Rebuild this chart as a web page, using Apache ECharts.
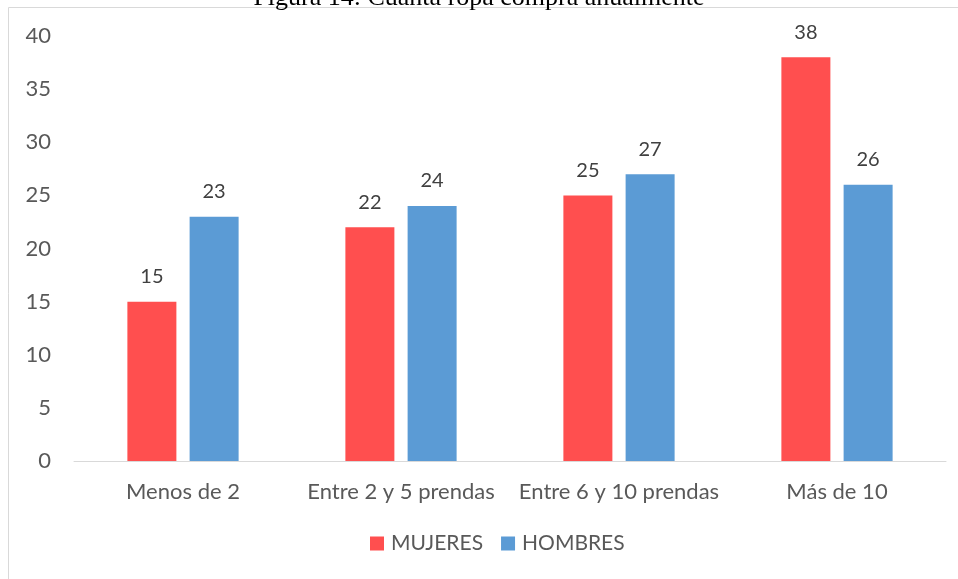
<!DOCTYPE html>
<html><head><meta charset="utf-8">
<script src="https://cdn.jsdelivr.net/npm/echarts@6/dist/echarts.min.js"></script>
<style>html,body{margin:0;padding:0;background:#fff}#c{width:958px;height:579px}</style>
</head><body><div id="c"></div>
<script>
const categories = ['Menos de 2', 'Entre 2 y 5 prendas', 'Entre 6 y 10 prendas', 'Más de 10'];
const mujeres = [15, 22, 25, 38];
const hombres = [23, 24, 27, 26];
const yTicks = [0, 5, 10, 15, 20, 25, 30, 35, 40];
const titleText = 'Figura 14: Cuánta ropa compra anualmente';

const chart = echarts.init(document.getElementById('c'), null, {renderer: 'canvas'});
const font = 'Lato, "Open Sans", sans-serif';
chart.setOption({
  animation: false,
  title: {
    text: titleText, left: 'center', top: -20,
    textStyle: {fontFamily: '"Liberation Serif", "Times New Roman", serif', fontWeight: 'normal', fontSize: 26, color: '#000'}
  },
  graphic: [{
    type: 'rect', shape: {x: 8.5, y: 7.5, width: 1000, height: 700},
    style: {fill: 'none', stroke: '#d9d9d9', lineWidth: 1}, z: -1
  }],
  legend: {
    bottom: 20, left: 365, itemWidth: 14, itemHeight: 14, itemGap: 18,
    icon: 'rect',
    textStyle: {fontFamily: font, fontSize: 21, color: '#595959', padding: [0, 0, 0, 2]},
    data: ['MUJERES', 'HOMBRES']
  },
  grid: {left: 74, right: 12, top: 36, bottom: 118, containLabel: false},
  xAxis: {
    type: 'category', data: categories,
    axisLine: {lineStyle: {color: '#d9d9d9', width: 1}},
    axisTick: {show: false},
    axisLabel: {fontFamily: font, fontSize: 22, color: '#595959', margin: 20, interval: 0}
  },
  yAxis: {
    type: 'value', min: 0, max: 40, interval: 5,
    axisLine: {show: false}, axisTick: {show: false},
    splitLine: {show: false},
    axisLabel: {fontFamily: font, fontSize: 22, color: '#595959', margin: 23, align: 'right',
      formatter: v => yTicks.includes(v) ? String(v) : ''}
  },
  series: [
    {name: 'MUJERES', type: 'bar', data: mujeres, barWidth: 49, barGap: '27%',
     itemStyle: {color: '#ff4f4f'},
     label: {show: true, position: 'top', distance: 15, fontFamily: font, fontSize: 20, color: '#404040'}},
    {name: 'HOMBRES', type: 'bar', data: hombres, barWidth: 49,
     itemStyle: {color: '#5b9bd5'},
     label: {show: true, position: 'top', distance: 15, fontFamily: font, fontSize: 20, color: '#404040'}}
  ]
});
</script></body></html>
